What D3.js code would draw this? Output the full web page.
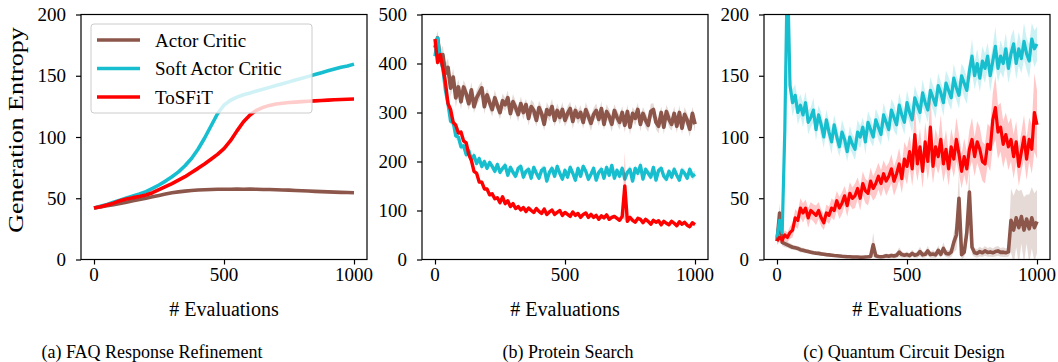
<!DOCTYPE html>
<html>
<head>
<meta charset="utf-8">
<script src="https://cdn.jsdelivr.net/npm/d3@7"></script>
<style>
  body { margin: 0; background: #fff; }
  svg { display: block; }
</style>
</head>
<body>
<svg id="chart" width="1058" height="362"></svg>
<script>
// ---- data ----
const methods = ['Actor Critic', 'Soft Actor Critic', 'ToSFiT'];
const colors = ['#8c564b', '#17becf', '#ff0000'];
const captions = ['(a) FAQ Response Refinement', '(b) Protein Search', '(c) Quantum Circuit Design'];
const xLabel = '# Evaluations';
const yLabel = 'Generation Entropy';
const xTicks = [0, 500, 1000];
const yTicksA = [0, 50, 100, 150, 200];
const yTicksB = [0, 100, 200, 300, 400, 500];
const yTicksC = [0, 50, 100, 150, 200];

// evaluation steps at which values were read
const evalsA = d3.range(0, 1001, 25);
const evalsB = d3.range(0, 1001, 10);
const evalsC = d3.range(0, 1001, 10);

// (a) FAQ Response Refinement
const acA = [42, 42.9, 43.8, 44.8, 45.8, 46.8, 47.9, 49, 50, 51.2,
  52.3, 53.4, 54.5, 55.2, 55.8, 56.3, 56.7, 56.9, 57.1, 57.3,
  57.4, 57.3, 57.5, 57.4, 57.5, 57.3, 57.2, 57.1, 56.9, 56.7,
  56.6, 56.3, 56.1, 55.9, 55.6, 55.4, 55.2, 55, 54.8, 54.7, 54.5];
const sacA = [42, 43.5, 45, 46.7, 48.5, 50.2, 51.8, 53.5, 55.4, 58,
  60.8, 64, 67.6, 71.5, 76.5, 82.5, 90, 99, 109, 119,
  126, 130, 132.5, 134.5, 136, 137.5, 139, 140.5, 142, 143.5,
  145, 146.5, 148, 149.5, 151, 152.5, 154, 155.5, 157, 158, 159.5];
const tosA = [42, 43, 44.5, 46, 48, 49.3, 50.5, 51.5, 52.6, 54.5,
  57, 59.5, 62, 64.8, 67.6, 71, 74.4, 78, 81.8, 85.8,
  90.5, 97, 105, 112.5, 118, 121.8, 124.2, 125.8, 127, 127.6,
  128.1, 128.5, 128.9, 129.2, 129.5, 129.8, 130.1, 130.4, 130.6, 130.8, 131];

// (b) Protein Search
const acB = [432, 452, 408, 418, 380, 392, 350, 372, 330, 352,
  322, 352, 338, 318, 346, 312, 330, 340, 350, 312,
  336, 320, 306, 330, 314, 300, 324, 316, 330, 298,
  322, 310, 296, 318, 300, 316, 288, 312, 304, 284,
  310, 298, 276, 306, 296, 312, 284, 304, 290, 306,
  284, 298, 308, 282, 304, 290, 300, 280, 306, 292,
  278, 296, 304, 286, 308, 276, 302, 292, 276, 304,
  290, 280, 300, 274, 302, 270, 298, 288, 306, 276,
  298, 284, 274, 302, 306, 280, 272, 300, 270, 302,
  286, 276, 298, 272, 300, 268, 296, 284, 266, 298, 276];
const sacB = [415, 452, 408, 392, 346, 318, 282, 280, 252, 250,
  230, 232, 214, 222, 204, 212, 196, 206, 190, 200,
  186, 198, 190, 180, 194, 178, 186, 192, 172, 188,
  178, 170, 186, 190, 168, 180, 184, 166, 188, 176,
  166, 182, 186, 160, 178, 186, 170, 190, 176, 164,
  182, 168, 188, 176, 162, 186, 170, 190, 180, 164,
  174, 186, 162, 178, 184, 166, 188, 172, 192, 166,
  182, 170, 186, 164, 178, 184, 160, 186, 176, 192,
  164, 184, 176, 168, 188, 162, 182, 186, 170, 164,
  180, 168, 184, 172, 162, 182, 176, 166, 184, 170, 174];
const tosB = [450, 402, 418, 392, 362, 318, 306, 280, 274, 258,
  260, 242, 238, 214, 202, 180, 176, 158, 158, 144,
  144, 132, 134, 124, 126, 116, 128, 114, 120, 108,
  114, 104, 108, 101, 106, 98, 105, 100, 96, 104,
  98, 94, 103, 92, 97, 101, 92, 96, 100, 90,
  96, 92, 88, 97, 90, 94, 86, 92, 95, 86,
  92, 86, 90, 82, 89, 85, 91, 82, 86, 88,
  84, 80, 88, 150, 78, 86, 80, 76, 84, 82,
  75, 82, 78, 72, 80, 76, 79, 71, 78, 74,
  71, 78, 74, 69, 77, 72, 76, 70, 67, 75, 71];
const acBStd = [12, 15, 18, 18, 20, 18, 18, 18, 20, 16,
  16, 14, 16, 14, 16, 13, 15, 16, 14, 15,
  13, 15, 14, 16, 13, 14, 15, 13, 15, 14,
  16, 13, 15, 14, 15, 12, 15, 14, 16, 13,
  14, 15, 13, 15, 14, 16, 13, 15, 14, 15,
  13, 15, 14, 16, 13, 14, 15, 13, 15, 14,
  16, 13, 15, 14, 15, 12, 15, 14, 16, 13,
  14, 15, 13, 15, 14, 16, 13, 15, 14, 15,
  13, 15, 14, 16, 13, 14, 15, 13, 15, 14,
  16, 13, 15, 14, 15, 12, 15, 14, 16, 13, 15];
const sacBStd = [6, 10, 8, 8, 8, 7, 7, 7, 7, 7,
  7, 6, 8, 6, 7, 8, 6, 7, 8, 6,
  6, 7, 6, 8, 6, 7, 6, 8, 6, 7,
  8, 6, 7, 6, 8, 6, 7, 8, 6, 7,
  6, 8, 7, 6, 8, 7, 6, 8, 7, 6,
  7, 6, 8, 7, 6, 8, 6, 7, 8, 6,
  8, 7, 6, 7, 8, 6, 8, 7, 6, 7,
  6, 8, 7, 6, 7, 8, 6, 7, 8, 9,
  7, 6, 8, 7, 6, 8, 7, 6, 8, 7,
  6, 8, 7, 8, 6, 7, 8, 6, 7, 8, 7];
const tosBStd = [8, 7, 7, 6, 6, 5, 5, 5, 5, 4,
  4, 4, 4, 4, 4, 4, 4, 4, 4, 4,
  4, 4, 4, 4, 4, 4, 4, 4, 4, 4,
  4, 4, 4, 4, 4, 4, 4, 4, 4, 4,
  4, 4, 4, 4, 4, 4, 4, 4, 4, 4,
  4, 4, 4, 4, 4, 4, 4, 4, 4, 4,
  4, 4, 4, 4, 4, 4, 4, 4, 4, 4,
  4, 4, 4, 70, 4, 4, 4, 4, 4, 4,
  4, 4, 4, 4, 4, 4, 4, 4, 4, 4,
  4, 4, 4, 4, 4, 4, 4, 4, 4, 4, 4];

// (c) Quantum Circuit Design
const acC = [15, 38, 14, 13, 12, 11, 10, 9.5, 9, 8,
  7.5, 7, 6.5, 6, 5.5, 5.2, 5, 4.6, 4.3, 4,
  3.8, 3.5, 3.2, 3, 2.8, 2.6, 2.5, 2.3, 2.2, 2.1,
  2, 2, 1.9, 1.8, 2, 2.2, 2.5, 12, 3, 2.4,
  2.2, 2.5, 3, 2.6, 3.2, 2.8, 3.5, 6, 4, 3.5,
  4, 3.2, 5, 3.5, 4, 6.5, 3.8, 4.2, 7, 4,
  4.5, 3.8, 7.5, 4.2, 9, 5, 4.5, 6, 14, 20,
  50, 4, 6, 22, 55, 10, 5.5, 5, 6.5, 5.5,
  7, 5.8, 6.2, 5.5, 6.5, 7, 5.8, 6, 5.5, 6.2,
  32, 24, 34, 26, 35, 24, 33, 25, 34, 26, 31];
const sacC = [18, 32, 22, 105, 240, 142, 128, 134, 120, 126,
  118, 128, 112, 116, 122, 106, 118, 110, 100, 114,
  104, 96, 110, 100, 92, 104, 98, 88, 100, 94,
  90, 104, 100, 108, 96, 112, 106, 100, 114, 108,
  102, 118, 112, 106, 122, 116, 110, 126, 118, 112,
  128, 120, 114, 132, 126, 120, 136, 128, 122, 138,
  132, 126, 142, 136, 128, 144, 138, 132, 148, 140,
  134, 150, 144, 138, 154, 166, 150, 160, 148, 162,
  156, 166, 150, 162, 174, 156, 166, 160, 172, 156,
  168, 176, 160, 172, 164, 178, 168, 162, 180, 172, 176];
const tosC = [15, 18, 16, 20, 18, 22, 24, 34, 32, 42,
  38, 42, 34, 40, 38, 36, 40, 34, 30, 38,
  36, 42, 40, 48, 42, 46, 52, 44, 54, 50,
  52, 58, 50, 62, 56, 54, 64, 58, 62, 68,
  62, 70, 64, 68, 74, 64, 70, 78, 66, 82,
  76, 88, 74, 102, 78, 92, 72, 96, 80, 108,
  76, 92, 84, 98, 78, 90, 74, 92, 82, 98,
  86, 72, 84, 74, 90, 98, 84, 96, 90, 80,
  78, 94, 90, 114, 124, 104, 108, 94, 102, 92,
  98, 84, 96, 76, 88, 100, 82, 98, 90, 120, 110];
const acCStd = [3, 8, 3, 3, 2.5, 2.5, 2, 2, 2, 2,
  2, 1.8, 1.8, 1.6, 1.6, 1.5, 1.5, 1.4, 1.4, 1.4,
  1.3, 1.3, 1.2, 1.2, 1.2, 1.2, 1.1, 1.1, 1.1, 1.1,
  1, 1, 1, 1, 1, 1.2, 1.5, 10, 2, 1.5,
  1.5, 1.5, 2, 1.8, 2, 1.8, 2, 4, 2.5, 2,
  2.5, 2, 3, 2, 2.5, 4, 2.5, 2.5, 4, 2.5,
  3, 2.5, 4, 2.5, 5, 3, 3, 4, 8, 12,
  22, 4, 4, 12, 20, 6, 3.5, 3.5, 4, 3.5,
  4, 3.5, 4, 3.5, 4, 4, 3.5, 4, 3.5, 4,
  26, 28, 24, 30, 22, 27, 20, 28, 25, 28, 26];
const sacCStd = [2, 6, 4, 20, 15, 10, 11, 9, 10, 9,
  10, 9, 10, 8, 10, 9, 8, 10, 9, 8,
  9, 10, 8, 9, 8, 10, 9, 8, 9, 8,
  9, 10, 9, 8, 10, 9, 10, 8, 9, 10,
  9, 10, 8, 10, 9, 11, 9, 10, 9, 10,
  10, 9, 11, 10, 9, 10, 11, 9, 10, 11,
  10, 11, 10, 9, 11, 10, 11, 10, 12, 10,
  11, 10, 12, 11, 10, 14, 11, 12, 11, 12,
  12, 11, 13, 12, 16, 11, 13, 12, 13, 12,
  14, 12, 13, 14, 12, 15, 13, 14, 13, 15, 14];
const tosCStd = [3, 4, 3, 4, 4, 5, 6, 7, 7, 8,
  8, 7, 8, 7, 7, 8, 7, 7, 6, 7,
  7, 8, 8, 8, 9, 9, 8, 9, 9, 9,
  10, 9, 10, 10, 10, 10, 11, 10, 11, 11,
  11, 11, 12, 11, 12, 12, 12, 13, 12, 14,
  15, 13, 14, 25, 14, 15, 14, 16, 15, 28,
  14, 15, 14, 20, 15, 16, 14, 15, 15, 18,
  16, 14, 15, 14, 16, 18, 16, 17, 18, 16,
  16, 17, 18, 22, 26, 22, 20, 19, 18, 19,
  18, 18, 17, 16, 16, 18, 17, 18, 20, 32, 28];

// ---- layout ----
const FONT = 'Liberation Serif';
const svg = d3.select('#chart');
const plotTop = 14.5, plotBottom = 259.5, plotW = 286;

const panels = [
  { left: 81, yMax: 200, yTicks: yTicksA, evals: evalsA, means: [acA, sacA, tosA], stds: null, lw: 3.6, capX: 152 },
  { left: 422, yMax: 500, yTicks: yTicksB, evals: evalsB, means: [acB, sacB, tosB], stds: [acBStd, sacBStd, tosBStd], lw: 3.8, capX: 568 },
  { left: 764, yMax: 200, yTicks: yTicksC, evals: evalsC, means: [acC, sacC, tosC], stds: [acCStd, sacCStd, tosCStd], lw: 3.6, capX: 904 }
];

const defs = svg.append('defs');
const textLayer = [];

panels.forEach((p, pi) => {
  const x = d3.scaleLinear().domain([-50, 1050]).range([p.left, p.left + plotW]);
  const y = d3.scaleLinear().domain([0, p.yMax]).range([plotBottom, plotTop]);

  defs.append('clipPath').attr('id', 'clip' + pi)
    .append('rect')
    .attr('x', p.left).attr('y', plotTop)
    .attr('width', plotW).attr('height', plotBottom - plotTop);

  const plot = svg.append('g').attr('clip-path', `url(#clip${pi})`);

  p.means.forEach((m, si) => {
    const line = d3.line()
      .x((d, i) => x(p.evals[i]))
      .y(d => y(d));
    plot.append('path')
      .datum(m)
      .attr('d', line)
      .attr('fill', 'none')
      .attr('stroke', colors[si])
      .attr('stroke-width', si === 0 || pi === 0 ? p.lw : p.lw - 0.4)
      .attr('stroke-linejoin', 'round');

    if (p.stds) {
      const s = p.stds[si];
      const area = d3.area()
        .x((d, i) => x(p.evals[i]))
        .y0((d, i) => y(d - s[i]))
        .y1((d, i) => y(d + s[i]));
      plot.append('path')
        .datum(m)
        .attr('d', area)
        .attr('fill', colors[si])
        .attr('fill-opacity', 0.22);
    }
  });

  // tick marks only; labels are drawn separately below
  const xAxis = svg.append('g')
    .attr('transform', `translate(0,${plotBottom})`)
    .call(d3.axisBottom(x).tickValues(xTicks).tickSize(5).tickFormat(''));
  const yAxis = svg.append('g')
    .attr('transform', `translate(${p.left},0)`)
    .call(d3.axisLeft(y).tickValues(p.yTicks).tickSize(5).tickFormat(''));
  [xAxis, yAxis].forEach(ax => {
    ax.select('.domain').remove();
    ax.selectAll('text').remove();
    ax.selectAll('line').attr('stroke', '#000').attr('stroke-width', 1.2);
  });

  svg.append('rect')
    .attr('x', p.left).attr('y', plotTop)
    .attr('width', plotW).attr('height', plotBottom - plotTop)
    .attr('fill', 'none')
    .attr('stroke', '#000')
    .attr('stroke-width', 1.2);

  xTicks.forEach(t => textLayer.push({
    x: x(t), y: 281, anchor: 'middle', size: 19, text: String(t)
  }));
  p.yTicks.forEach(t => textLayer.push({
    x: p.left - 15, y: y(t) + 6.5, anchor: 'end', size: 19, text: String(t)
  }));
  textLayer.push({ x: p.left + plotW / 2, y: 316, anchor: 'middle', size: 20, text: xLabel });
  textLayer.push({ x: p.capX, y: 358, anchor: 'middle', size: 18, text: captions[pi] });
});

// legend (panel a)
const legend = svg.append('g');
legend.append('rect')
  .attr('x', 91).attr('y', 24)
  .attr('width', 221).attr('height', 89)
  .attr('rx', 3)
  .attr('fill', '#fff').attr('fill-opacity', 0.8)
  .attr('stroke', '#cccccc').attr('stroke-width', 1);
methods.forEach((name, i) => {
  const cy = 40 + i * 28.5;
  legend.append('line')
    .attr('x1', 97).attr('x2', 140)
    .attr('y1', cy).attr('y2', cy)
    .attr('stroke', colors[i]).attr('stroke-width', 3.6);
  textLayer.push({ x: 155, y: cy + 6.5, anchor: 'start', size: 19, text: name });
});

svg.selectAll('text.lbl')
  .data(textLayer)
  .enter()
  .append('text')
  .attr('class', 'lbl')
  .attr('x', d => d.x)
  .attr('y', d => d.y)
  .attr('text-anchor', d => d.anchor)
  .style('font-family', FONT)
  .style('font-size', d => d.size + 'px')
  .style('fill', '#000')
  .text(d => d.text);

svg.append('text')
  .attr('transform', 'translate(23,130) rotate(-90) scale(1.3,1)')
  .attr('text-anchor', 'middle')
  .style('font-family', FONT)
  .style('font-size', '20px')
  .style('fill', '#000')
  .text(yLabel);
</script>
</body>
</html>
